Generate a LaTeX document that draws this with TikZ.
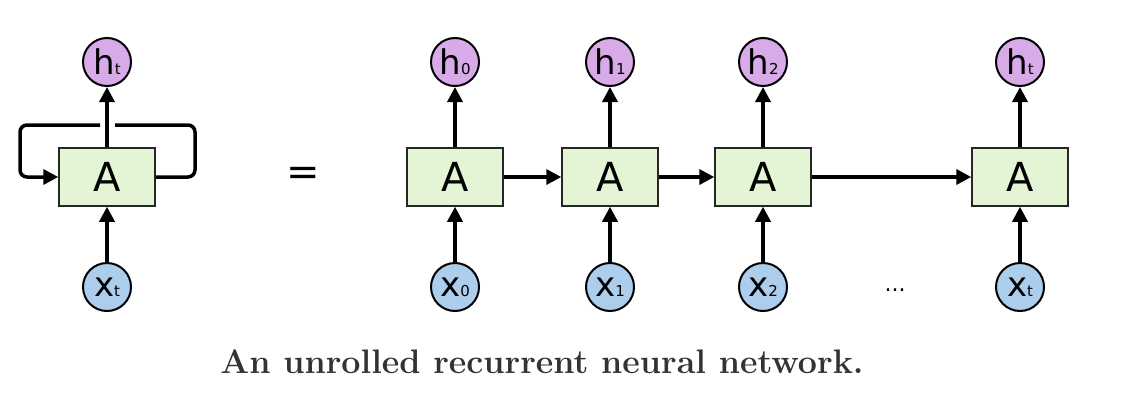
\documentclass[tikz,border=0pt]{standalone}
\usepackage{fontspec}
\newfontfamily\cellfont{DejaVu Sans}
\usetikzlibrary{arrows.meta}
\definecolor{cellgreen}{RGB}{228,245,214}
\definecolor{hpurple}{RGB}{216,171,232}
\definecolor{xblue}{RGB}{172,205,235}
\definecolor{capgray}{RGB}{51,51,51}
\newcommand\lbl[2]{#1{\fontsize{15}{15}\selectfont #2}}
\tikzset{
  cell/.style={draw=black!85, line width=1.5, fill=cellgreen, minimum width=96, minimum height=58,
    inner sep=0, font=\cellfont\fontsize{40}{40}\selectfont},
  unit/.style={circle, draw, line width=2, minimum size=48, inner sep=0,
    font=\cellfont\fontsize{34}{34}\selectfont},
  hout/.style={unit, fill=hpurple},
  xin/.style={unit, fill=xblue},
  flow/.style={-{Triangle[length=15,width=15]}, line width=3.5},
}
\begin{document}
\begin{tikzpicture}[x=1pt,y=-1pt]
  \useasboundingbox (0,0) rectangle (1126,404);
  % folded network
  \node[cell] (A) at (107,177) {A};
  \node[hout] (h) at (107,62) {\lbl{h}{t}};
  \node[xin] (x) at (107,287) {\lbl{x}{t}};
  \draw[flow] (x) -- (A);
  \draw[flow] (A) -- (h);
  \coordinate (loopR) at (195,125); \coordinate (gapR) at (115,125);
  \coordinate (gapL) at (100,125); \coordinate (loopL) at (20,177);
  \draw[line width=3.5, rounded corners=7] (A.east) -| (loopR) -- (gapR);
  \draw[flow, rounded corners=7] (gapL) -| (loopL) -- (A.west);
  \node[font=\cellfont\fontsize{40}{40}\selectfont] (eq) at (303,176) {=};
  % unrolled network
  \foreach \i/\cx/\s in {0/455/0, 1/610/1, 2/763/2, 3/1020/t} {
    \node[cell] (A\i) at (\cx,177) {A};
    \node[hout] (h\i) at (\cx,62) {\lbl{h}{\s}};
    \node[xin] (x\i) at (\cx,287) {\lbl{x}{\s}};
    \draw[flow] (x\i) -- (A\i);
    \draw[flow] (A\i) -- (h\i);
  }
  \foreach \i/\j in {0/1, 1/2, 2/3} \draw[flow] (A\i) -- (A\j);
  \node[font=\cellfont\fontsize{22}{22}\selectfont] (dots) at (895,290) {...};
  \node[font=\bfseries\fontsize{34}{34}\selectfont, text=capgray] (cap) at (542,362)
    {An unrolled recurrent neural network.};
\end{tikzpicture}
\end{document}
